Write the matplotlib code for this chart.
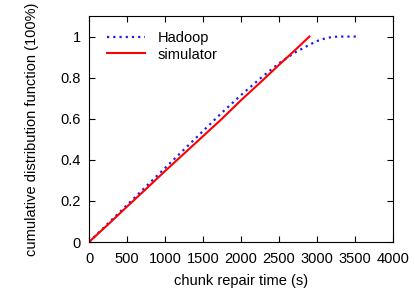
import matplotlib
matplotlib.use('Agg')
import matplotlib.pyplot as plt

plt.rcParams['font.family'] = ['Liberation Sans', 'DejaVu Sans']

hadoop_t = [0, 250, 500, 750, 1000, 1250, 1500, 1750, 2000, 2250, 2500, 2700, 2900, 3000, 3100, 3200, 3300, 3520]
hadoop_cdf = [0, 0.09, 0.18, 0.27, 0.36, 0.45, 0.54, 0.63, 0.715, 0.795, 0.87, 0.92, 0.96, 0.978, 0.99, 0.998, 1.0, 1.0]
sim_t = [0, 250, 500, 750, 1000, 1250, 1500, 1750, 2000, 2250, 2500, 2700, 2900]
sim_cdf = [0, 0.085, 0.172, 0.258, 0.345, 0.43, 0.515, 0.6, 0.69, 0.775, 0.862, 0.93, 1.0]

x_ticks = [0, 500, 1000, 1500, 2000, 2500, 3000, 3500, 4000]
y_ticks = [0, 0.2, 0.4, 0.6, 0.8, 1]
y_ticklabels = ['0', '0.2', '0.4', '0.6', '0.8', '1']

fig = plt.figure(figsize=(4.15, 2.9), dpi=100)
ax = fig.add_axes([89 / 415, 48 / 290, 304 / 415, 226 / 290])

ax.plot(hadoop_t, hadoop_cdf, color='#1f1fe6', linestyle=(0, (1, 1.8)), linewidth=1.6, label='Hadoop')
ax.plot(sim_t, sim_cdf, color='#ff0000', linewidth=1.5, label='simulator')

ax.set_xlim(0, 4000)
ax.set_ylim(0, 1.1)
ax.set_xticks(x_ticks)
ax.set_yticks(y_ticks)
ax.set_yticklabels(y_ticklabels)
ax.tick_params(direction='in', length=4, top=True, right=True, labelsize=10.5, width=0.8)
ax.tick_params(axis='x', pad=7)
ax.tick_params(axis='y', pad=6)
ax.set_xlabel('chunk repair time (s)', fontsize=10.5, labelpad=6)
ax.set_ylabel('cumulative distribution function (100%)', fontsize=10.5, labelpad=15)

ax.legend(loc='upper left', frameon=False, fontsize=10.5, handlelength=2.6,
          handletextpad=0.9, borderaxespad=0, borderpad=0, labelspacing=0.15,
          bbox_to_anchor=(0.059, 0.932))

fig.savefig('out.png', dpi=100)
